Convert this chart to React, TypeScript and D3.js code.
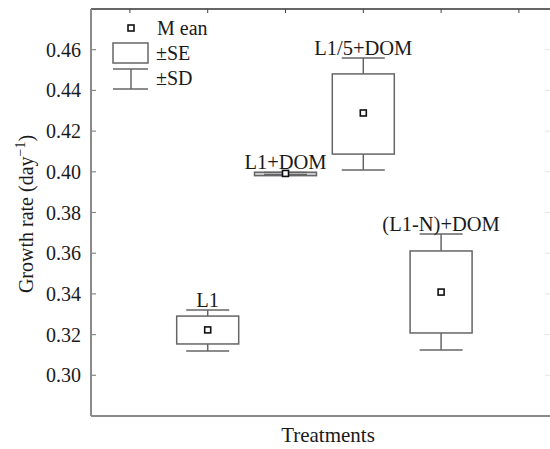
import * as d3 from "d3"

// treatments along the x axis (tick index 1..4)
const categories = ["L1", "L1+DOM", "L1/5+DOM", "(L1-N)+DOM"]
const means = [0.3223, 0.3992, 0.4289, 0.3409]
const seLow = [0.3154, 0.3981, 0.4087, 0.3208]
const seHigh = [0.3291, 0.3998, 0.4481, 0.3611]
const sdLow = [0.3119, 0.3986, 0.4009, 0.3124]
const sdHigh = [0.3321, 0.3996, 0.4559, 0.3694]
const yTicks = [0.30, 0.32, 0.34, 0.36, 0.38, 0.40, 0.42, 0.44, 0.46]
const xTicks = [0, 1, 2, 3, 4, 5]

const W = 550
const H = 449
const margin = { top: 9, left: 91, bottom: 33 }
const font = "Liberation Serif"

export default function App() {
	const x = d3.scaleLinear().domain([-0.5, 5.5]).range([margin.left, margin.left + 6 * 77.8])
	const y = d3.scaleLinear().domain([0.28, 0.48]).range([H - margin.bottom, margin.top])
	const fmt = d3.format(".2f")

	const boxW = 62
	const capW = 43
	const axisGray = "#8a8a8a"
	const boxGray = "#666"
	const ink = "#1a1a1a"

	return (
		<div style={{ position: "fixed", left: 0, top: 0, width: W, height: H, background: "#fff" }}>
			<svg width={W} height={H} style={{ display: "block" }} fontFamily={font}>
				{/* frame */}
				<line x1={margin.left} x2={W} y1={y(0.48)} y2={y(0.48)} stroke="#333" strokeWidth={1.5} />
				<line x1={margin.left} x2={W} y1={y(0.28)} y2={y(0.28)} stroke={axisGray} strokeWidth={2} />
				<line x1={margin.left} x2={margin.left} y1={y(0.48)} y2={y(0.28)} stroke={axisGray} strokeWidth={2} />

				{/* top ticks */}
				{xTicks.map(t => (
					<line key={"xt" + t} x1={x(t)} x2={x(t)} y1={y(0.48)} y2={y(0.48) + 4} stroke="#444" strokeWidth={1} />
				))}

				{/* y ticks + labels */}
				{yTicks.map(t => (
					<g key={"yt" + t}>
						<line x1={margin.left} x2={margin.left + 5} y1={y(t)} y2={y(t)} stroke={axisGray} strokeWidth={1.2} />
						<line x1={W - 5} x2={W} y1={y(t)} y2={y(t)} stroke="#e4e4e4" strokeWidth={1} />
						<text x={margin.left - 10} y={y(t)} dy="0.35em" textAnchor="end" fontSize={20} fill={ink}>{fmt(t)}</text>
					</g>
				))}

				{/* axis titles */}
				<text transform="translate(33, 214) rotate(-90)" textAnchor="middle" fontSize={20} fill={ink}>
					Growth rate (day<tspan dy="-8" fontSize={14}>−1</tspan><tspan dy="8">)</tspan>
				</text>
				<text x={328} y={442} textAnchor="middle" fontSize={21} fill={ink}>Treatments</text>

				{/* boxes */}
				{categories.map((c, i) => {
					const cx = x(i + 1)
					const top = Math.min(y(sdHigh[i]), y(seHigh[i]))
					return (
						<g key={c}>
							<line x1={cx} x2={cx} y1={y(sdHigh[i])} y2={y(seHigh[i])} stroke={boxGray} strokeWidth={1.5} />
							<line x1={cx} x2={cx} y1={y(seLow[i])} y2={y(sdLow[i])} stroke={boxGray} strokeWidth={1.5} />
							<rect x={cx - boxW / 2} y={y(seHigh[i])} width={boxW} height={y(seLow[i]) - y(seHigh[i])} fill={i === 1 ? "#ccc" : "none"} stroke={boxGray} strokeWidth={1.5} />
							<line x1={cx - capW / 2} x2={cx + capW / 2} y1={y(sdHigh[i])} y2={y(sdHigh[i])} stroke={boxGray} strokeWidth={1.5} />
							<line x1={cx - capW / 2} x2={cx + capW / 2} y1={y(sdLow[i])} y2={y(sdLow[i])} stroke={boxGray} strokeWidth={1.5} />
							<rect x={cx - 3} y={y(means[i]) - 3} width={6} height={6} fill="#fff" stroke="#111" strokeWidth={1.6} />
							<text x={cx} y={top - 3} textAnchor="middle" fontSize={20.5} fill={ink}>{c}</text>
						</g>
					)
				})}

				{/* legend */}
				<rect x={128} y={25} width={6} height={6} fill="#fff" stroke="#111" strokeWidth={1.6} />
				<text x={157} y={35} fontSize={20} fill={ink}>M ean</text>
				<rect x={113} y={43} width={35} height={20} fill="none" stroke={boxGray} strokeWidth={1.5} />
				<text x={156} y={60} fontSize={20} fill={ink}>±SE</text>
				<line x1={113} x2={148} y1={69} y2={69} stroke={boxGray} strokeWidth={1.5} />
				<line x1={131} x2={131} y1={69} y2={89} stroke={boxGray} strokeWidth={1.5} />
				<line x1={113} x2={148} y1={89} y2={89} stroke={boxGray} strokeWidth={1.5} />
				<text x={156} y={85} fontSize={20} fill={ink}>±SD</text>
			</svg>
		</div>
	)
}
